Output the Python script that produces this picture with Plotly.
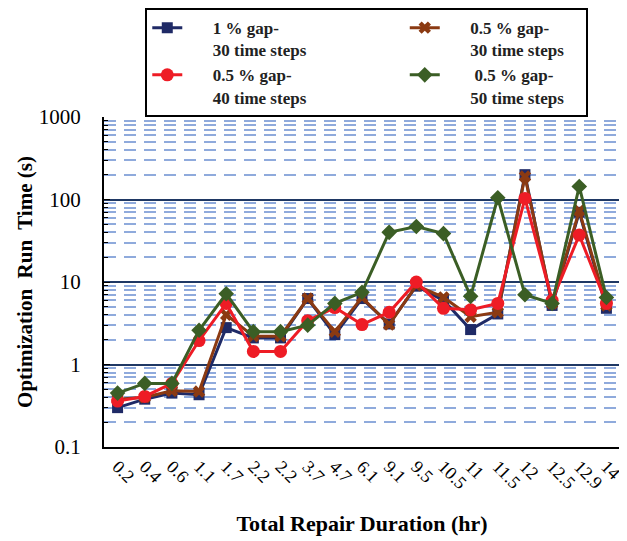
import plotly.graph_objects as go

categories = ["0.2", "0.4", "0.6", "1.1", "1.7", "2.2", "2.2", "3.7", "4.7", "6.1",
              "9.1", "9.5", "10.5", "11", "11.5", "12", "12.5", "12.9", "14"]

gap1_30 = [0.30, 0.38, 0.45, 0.43, 2.8, 2.1, 2.1, 6.3, 2.3, 6.3, 3.1, 8.9, 6.0, 2.65, 4.1, 200, 5.2, 70, 4.8]
gap05_30 = [0.38, 0.40, 0.48, 0.47, 4.0, 2.2, 2.2, 6.3, 2.5, 6.5, 3.05, 9.1, 6.5, 3.8, 4.3, 190, 5.5, 73, 5.2]
gap05_40 = [0.36, 0.41, 0.59, 1.95, 5.5, 1.44, 1.44, 3.4, 4.9, 3.05, 4.3, 10.0, 4.8, 4.6, 5.5, 103, 6.0, 37, 5.5]
gap05_50 = [0.45, 0.59, 0.59, 2.6, 7.2, 2.5, 2.5, 3.0, 5.5, 7.5, 40, 47, 38.6, 6.7, 105, 7.0, 5.5, 144, 6.5]

legend_line1 = ["1 % gap-", "0.5 % gap-", "0.5 % gap-", " 0.5 % gap-"]
legend_line2 = ["30 time steps", "30 time steps", "40 time steps", "50 time steps"]

NB = "\u00a0"
pre = NB * 6
tails = [NB * 22, NB * 4, "", NB * 4]
names = []
for a, b, tail in zip(legend_line1, legend_line2, tails):
    names.append("<b>" + pre + a.replace(" ", NB) + "<br>" + pre + b + tail + "</b>")

xpos = list(range(len(categories)))

fig = go.Figure()
styles = [
    (gap1_30, "#1F2A66", "square", 11),
    (gap05_30, "#8B3A12", "x", 11),
    (gap05_40, "#EE1C25", "circle", 13),
    (gap05_50, "#3B5E25", "diamond", 12),
]
for (vals, col, sym, sz), nm in zip(styles, names):
    fig.add_trace(go.Scatter(
        x=xpos, y=vals, name=nm, mode="lines+markers",
        line=dict(color=col, width=3),
        marker=dict(symbol=sym, size=sz, color=col),
    ))

font_fam = "Liberation Serif"

# page body adds ~8px offset; margins compensate
fig.update_layout(
    width=627, height=541,
    margin=dict(l=96, r=15, t=109, b=102, autoexpand=False),
    paper_bgcolor="white", plot_bgcolor="white",
    font=dict(family=font_fam, color="black"),
    showlegend=True,
    legend=dict(
        orientation="h", x=0.08, xanchor="left", y=1.33, yanchor="top",
        bordercolor="black", borderwidth=2,
        font=dict(family=font_fam, size=17, color="#222"),
        valign="top",
        tracegroupgap=0,
    ),
    xaxis=dict(
        range=[-0.5, len(categories) - 0.5],
        tickmode="array", tickvals=xpos, ticktext=categories,
        tickangle=45, tickfont=dict(size=18),
        showgrid=False, zeroline=False,
        showline=True, linecolor="black", linewidth=2,
        ticks="", automargin=False,
        title=dict(text="<b>Total Repair Duration (hr)</b>", font=dict(size=22), standoff=24),
    ),
    yaxis=dict(
        type="log", range=[-1, 3],
        tickvals=[0.1, 1, 10, 100, 1000], ticktext=["0.1", "1", "10", "100", "1000"],
        tickfont=dict(size=21), ticklabelstandoff=17,
        showgrid=True, gridcolor="#1F3864", gridwidth=1.5,
        zeroline=False, automargin=False,
        showline=True, linecolor="black", linewidth=2,
        ticks="inside", ticklen=6, tickcolor="black",
        minor=dict(dtick="D1", showgrid=True, gridcolor="#8FAADC", gridwidth=2,
                   griddash="12px,8px", ticks="inside", ticklen=4, tickcolor="black"),
        title=dict(text="<b>Optimization  Run  Time (s)</b>", font=dict(size=21), standoff=0),
    ),
)

fig.write_html("out.html")
